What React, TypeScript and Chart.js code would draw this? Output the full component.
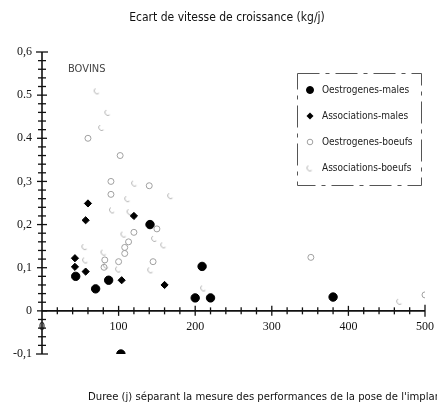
import React, { useEffect, useRef } from 'react';
import { Chart, registerables } from 'chart.js';

Chart.register(...registerables);

const chartTitle = 'Ecart de vitesse de croissance (kg/j)';
const xAxisTitle = "Duree (j) séparant la mesure des performances de la pose de l'implant";
const groupLabel = 'BOVINS';
const seriesNames = ['Oestrogenes-males', 'Associations-males', 'Oestrogenes-boeufs', 'Associations-boeufs'];

const yTickValues = [-10, 0, 10, 20, 30, 40, 50, 60];
const yTickLabels = ['-0,1', '0', '0,1', '0,2', '0,3', '0.4', '0.5', '0,6'];
const xTickValues = [0, 100, 200, 300, 400, 500];
const xTickLabels = ['0', '100', '200', '300', '400', '500'];

const oestrogenesMales = [
  { x: 44, y: 0.08 }, { x: 70, y: 0.051 }, { x: 87, y: 0.071 }, { x: 103, y: -0.1 },
  { x: 141, y: 0.2 }, { x: 200, y: 0.03 }, { x: 209, y: 0.103 }, { x: 220, y: 0.03 },
  { x: 380, y: 0.032 },
];
const associationsMales = [
  { x: 43, y: 0.122 }, { x: 43, y: 0.102 }, { x: 57, y: 0.091 }, { x: 57, y: 0.21 },
  { x: 60, y: 0.249 }, { x: 104, y: 0.071 }, { x: 120, y: 0.22 }, { x: 160, y: 0.06 },
];
const oestrogenesBoeufs = [
  { x: 90, y: 0.3 }, { x: 90, y: 0.27 }, { x: 120, y: 0.182 }, { x: 108, y: 0.147 },
  { x: 113, y: 0.16 }, { x: 108, y: 0.133 }, { x: 100, y: 0.114 }, { x: 82, y: 0.118 },
  { x: 81, y: 0.101 }, { x: 140, y: 0.29 }, { x: 145, y: 0.114 }, { x: 150, y: 0.19 },
  { x: 351, y: 0.124 }, { x: 500, y: 0.037 }, { x: 60, y: 0.4 }, { x: 102, y: 0.36 },
];
const associationsBoeufs = [
  { x: 72, y: 0.51 }, { x: 86, y: 0.46 }, { x: 78, y: 0.425 }, { x: 121, y: 0.296 },
  { x: 168, y: 0.267 }, { x: 112, y: 0.26 }, { x: 92, y: 0.234 }, { x: 115, y: 0.23 },
  { x: 107, y: 0.178 }, { x: 147, y: 0.168 }, { x: 159, y: 0.153 }, { x: 56, y: 0.149 },
  { x: 57, y: 0.118 }, { x: 84, y: 0.106 }, { x: 100, y: 0.097 }, { x: 142, y: 0.095 },
  { x: 211, y: 0.053 }, { x: 467, y: 0.022 }, { x: 81, y: 0.136 },
];

const textFont = '"DejaVu Sans Condensed", "Liberation Sans Narrow", "DejaVu Sans", sans-serif';

function makeFaintMark(): HTMLCanvasElement {
  const c = document.createElement('canvas');
  c.width = 9;
  c.height = 9;
  const g = c.getContext('2d')!;
  g.strokeStyle = '#b4b4b4';
  g.lineWidth = 1;
  g.beginPath();
  g.arc(4.5, 4.5, 3, 0.3 * Math.PI, 1.3 * Math.PI);
  g.stroke();
  return c;
}

export default function App() {
  const ref = useRef<HTMLCanvasElement | null>(null);

  useEffect(() => {
    if (!ref.current) return;
    const faint = makeFaintMark();

    const axesPlugin = {
      id: 'customAxes',
      beforeDatasetsDraw(chart: any) {
        const ctx = chart.ctx;
        const xs = chart.scales.x;
        const ys = chart.scales.y;
        const x0 = xs.getPixelForValue(0);
        const y0 = ys.getPixelForValue(0);
        ctx.save();
        ctx.strokeStyle = '#111';
        ctx.lineWidth = 1.6;
        ctx.beginPath();
        ctx.moveTo(x0, ys.getPixelForValue(ys.max));
        ctx.lineTo(x0, ys.getPixelForValue(ys.min));
        ctx.stroke();
        ctx.beginPath();
        ctx.moveTo(x0, y0);
        ctx.lineTo(xs.getPixelForValue(xs.max), y0);
        ctx.stroke();
        ctx.lineWidth = 1.3;
        ys.ticks.forEach((t: any) => {
          const p = ys.getPixelForValue(t.value);
          const v = Math.round(t.value * 100);
          const major = v % 10 === 0;
          const l = v === 60 || v === -10 ? 6 : major ? 5 : 4;
          ctx.beginPath();
          ctx.moveTo(x0 - l, p);
          ctx.lineTo(x0 + l, p);
          ctx.stroke();
        });
        xs.ticks.forEach((t: any) => {
          const p = xs.getPixelForValue(t.value);
          const v = Math.round(t.value);
          if (v === 0) return;
          const major = v % 100 === 0;
          const l = v === 500 ? 6 : major ? 5 : 3.5;
          ctx.beginPath();
          ctx.moveTo(p, y0 - l);
          ctx.lineTo(p, y0 + l);
          ctx.stroke();
        });
        ctx.restore();
      },
      afterDraw(chart: any) {
        const ctx = chart.ctx;
        ctx.save();
        ctx.fillStyle = '#111';
        ctx.textBaseline = 'middle';
        ctx.font = `12px ${textFont}`;
        ctx.textAlign = 'center';
        ctx.fillText(chartTitle, 227, 18);
        ctx.textAlign = 'left';
        ctx.font = `11.2px ${textFont}`;
        ctx.fillText(xAxisTitle, 88, 397);
        ctx.font = `11px ${textFont}`;
        ctx.fillStyle = '#444';
        ctx.fillText(groupLabel, 68, 69);

        // legend box
        ctx.strokeStyle = '#555';
        ctx.lineWidth = 1;
        ctx.setLineDash([22, 6, 4, 6]);
        ctx.strokeRect(297.5, 73.5, 124, 112);
        ctx.setLineDash([]);
        const rowsY = [90, 116, 142, 168];
        ctx.font = `10px ${textFont}`;
        ctx.fillStyle = '#222';
        chart.data.datasets.forEach((ds: any, i: number) => {
          const cy = rowsY[i];
          const cx = 310;
          ctx.save();
          if (ds.pointStyle === 'circle') {
            ctx.beginPath();
            ctx.arc(cx, cy, ds.legendRadius, 0, Math.PI * 2);
            if (ds.backgroundColor !== 'transparent') {
              ctx.fillStyle = ds.backgroundColor;
              ctx.fill();
            }
            ctx.strokeStyle = ds.borderColor;
            ctx.lineWidth = ds.borderWidth;
            ctx.stroke();
          } else if (ds.pointStyle === 'rectRot') {
            const r = ds.legendRadius;
            ctx.beginPath();
            ctx.moveTo(cx - r, cy);
            ctx.lineTo(cx, cy - r);
            ctx.lineTo(cx + r, cy);
            ctx.lineTo(cx, cy + r);
            ctx.closePath();
            ctx.fillStyle = ds.backgroundColor;
            ctx.fill();
          } else {
            ctx.drawImage(ds.pointStyle, cx - 4.5, cy - 4.5);
          }
          ctx.restore();
          ctx.fillText(ds.label, 322, cy);
        });
        ctx.restore();
      },
    };

    const chart = new Chart(ref.current, {
      type: 'scatter',
      data: {
        datasets: [
          {
            label: seriesNames[0], data: oestrogenesMales, pointStyle: 'circle', pointRadius: 4.2,
            backgroundColor: '#000', borderColor: '#000', borderWidth: 1, legendRadius: 3.5,
          } as any,
          {
            label: seriesNames[1], data: associationsMales, pointStyle: 'rectRot', pointRadius: 3.6,
            backgroundColor: '#000', borderColor: '#000', borderWidth: 1, legendRadius: 3.5,
          } as any,
          {
            label: seriesNames[2], data: oestrogenesBoeufs, pointStyle: 'circle', pointRadius: 3,
            backgroundColor: 'transparent', borderColor: '#a0a0a0', borderWidth: 1, legendRadius: 2.8,
          } as any,
          {
            label: seriesNames[3], data: associationsBoeufs, pointStyle: faint, pointRadius: 4,
            backgroundColor: 'transparent', borderColor: '#b4b4b4', borderWidth: 1, legendRadius: 3,
          } as any,
        ],
      },
      options: {
        responsive: false,
        animation: false,
        layout: { padding: { top: 52, right: 12, bottom: 54, left: 0 } },
        plugins: { legend: { display: false }, title: { display: false }, tooltip: { enabled: false } },
        scales: {
          x: {
            type: 'linear',
            position: { y: 0 } as any,
            min: 0,
            max: 500,
            grid: { display: false, drawTicks: false },
            border: { display: false },
            afterFit: (s: any) => { s.height = 0; s.paddingRight = 0; s.paddingLeft = 0; },
            ticks: {
              stepSize: 20,
              autoSkip: false,
              maxRotation: 0,
              padding: 9,
              color: '#111',
              font: { family: '"Liberation Serif", serif', size: 12 },
              callback: (v: any) => {
                const i = xTickValues.indexOf(Math.round(Number(v)));
                return i >= 0 ? xTickLabels[i] : '';
              },
            },
          },
          y: {
            type: 'linear',
            min: -0.1,
            max: 0.6,
            grid: { display: false, drawTicks: false },
            border: { display: false },
            afterFit: (s: any) => { s.width = 42; },
            ticks: {
              stepSize: 0.02,
              autoSkip: false,
              padding: 10,
              color: '#111',
              font: { family: '"Liberation Serif", serif', size: 12 },
              callback: (v: any) => {
                const i = yTickValues.indexOf(Math.round(Number(v) * 100));
                return i >= 0 ? yTickLabels[i] : '';
              },
            },
          },
        },
      },
      plugins: [axesPlugin],
    } as any);

    return () => chart.destroy();
  }, []);

  return (
    <div style={{ position: 'fixed', left: 0, top: 0, width: 437, height: 408, background: '#fff' }}>
      <canvas ref={ref} width={437} height={408} />
    </div>
  );
}
